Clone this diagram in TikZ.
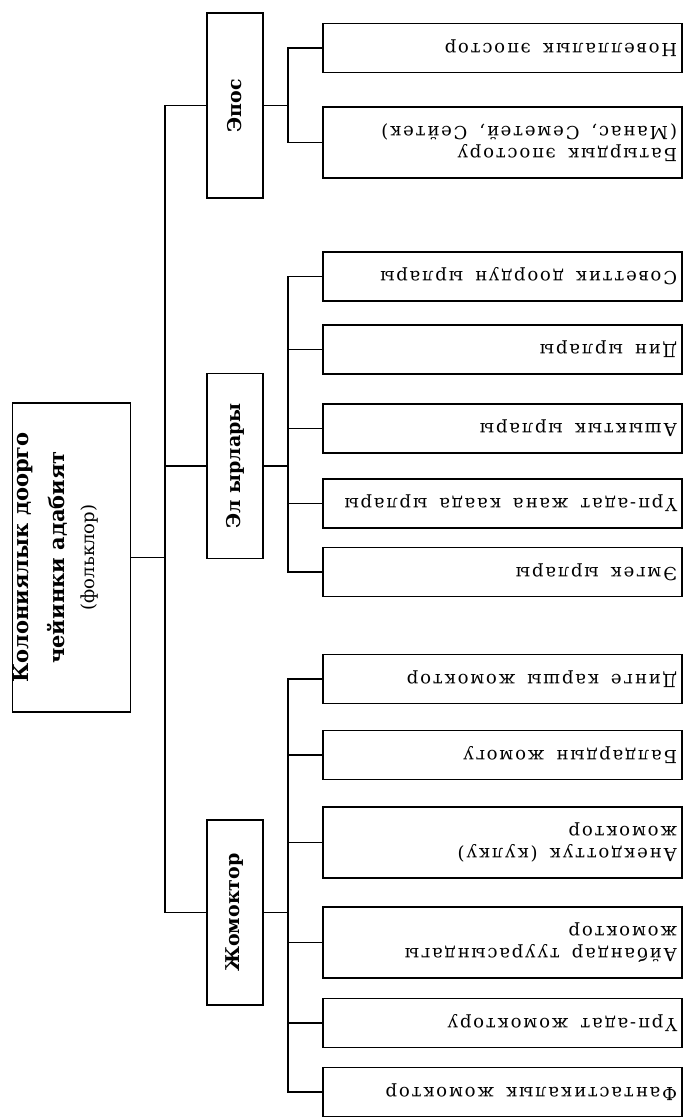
\documentclass[tikz,border=0pt]{standalone}
\usepackage{fontspec}
\setmainfont{DejaVu Serif}
\newfontfamily\leaffont[LetterSpace=10]{DejaVu Serif}
\newcommand\leafsize{\leaffont\fontsize{18}{22}\selectfont}
\tikzset{
  box/.style={draw, line width=1.3pt, inner sep=0pt},
  rootbox/.style={box, rotate=90, minimum width=309pt, minimum height=113pt, align=center,
    font=\bfseries\fontsize{21}{36}\selectfont},
  groupbox/.style={box, rotate=90, minimum width=185pt, minimum height=56pt,
    font=\bfseries\fontsize{19}{22}\selectfont},
  leafbox/.style={box, rotate=180, minimum width=359pt, minimum height=49pt,
    text width=349pt, align=left, inner xsep=5pt, font=\leafsize,
    execute at begin node={\spaceskip=12pt plus 2pt\xspaceskip=12pt\relax}},
  tallleaf/.style={leafbox, minimum height=71pt},
  link/.style={line width=1.3pt}
}
\begin{document}
\begin{tikzpicture}[x=1pt,y=-1pt]
    \useasboundingbox (0,0) rectangle (686,1118);
    % Root box
    \node[rootbox] (root) at (71.5,557.5)
      {Колониялык доорго\\ чейинки адабият\\[-6pt]
       \mdseries\fontsize{18}{22}\selectfont (фольклор)\\ \mbox{}};
    % Group boxes
    \node[groupbox] (epos) at (235,105.5) {Эпос};
    \node[groupbox] (el) at (235,466) {Эл ырлары};
    \node[groupbox] (jom) at (235,912.5) {Жомоктор};
    % Epos leaves
    \node[leafbox] (novel) at (502.5,48) {Новеллалык эпостор};
    \node[tallleaf] (batyr) at (502.5,142.5) {Батырдык эпостору\\ (Манас, Семетей, Сейтек)};
    % Song leaves
    \node[leafbox] (soviet) at (502.5,276.5) {Советтик доордун ырлары};
    \node[leafbox] (din) at (502.5,349.5) {Дин ырлары};
    \node[leafbox] (ashyk) at (502.5,428.5) {Ашыктык ырлары};
    \node[leafbox] (urp) at (502.5,503.5) {Үрп-адат жана каада ырлары};
    \node[leafbox] (emgek) at (502.5,572) {Эмгек ырлары};
    % Tale leaves
    \node[leafbox] (dinge) at (502.5,679) {Динге каршы жомоктор};
    \node[leafbox] (balder) at (502.5,755) {Балдардын жомогу};
    \node[tallleaf] (anek) at (502.5,842.5) {Анекдоттук (кулку)\\ жомоктор};
    \node[tallleaf] (aiban) at (502.5,942.5) {Айбандар туурасындагы\\ жомоктор};
    \node[leafbox] (urpjom) at (502.5,1023) {Үрп-адат жомоктору};
    \node[leafbox] (fant) at (502.5,1092) {Фантастикалык жомоктор};
    % Trunk and junctions
    \coordinate (trunk) at (165,557.5);
    \coordinate (eposj) at (288,105.5);
    \coordinate (elj) at (288,466);
    \coordinate (jomj) at (288,912.5);
    \draw[link] (root) -- (trunk);
    \foreach \g in {epos,el,jom}
      \draw[link] (trunk) |- (\g);
    \draw[link] (epos) -- (eposj);
    \draw[link] (el) -- (elj);
    \draw[link] (jom) -- (jomj);
    \foreach \n in {novel,batyr}
      \draw[link] (eposj) |- (\n);
    \foreach \n in {soviet,din,ashyk,urp,emgek}
      \draw[link] (elj) |- (\n);
    \foreach \n in {dinge,balder,anek,aiban,urpjom,fant}
      \draw[link] (jomj) |- (\n);
\end{tikzpicture}
\end{document}
